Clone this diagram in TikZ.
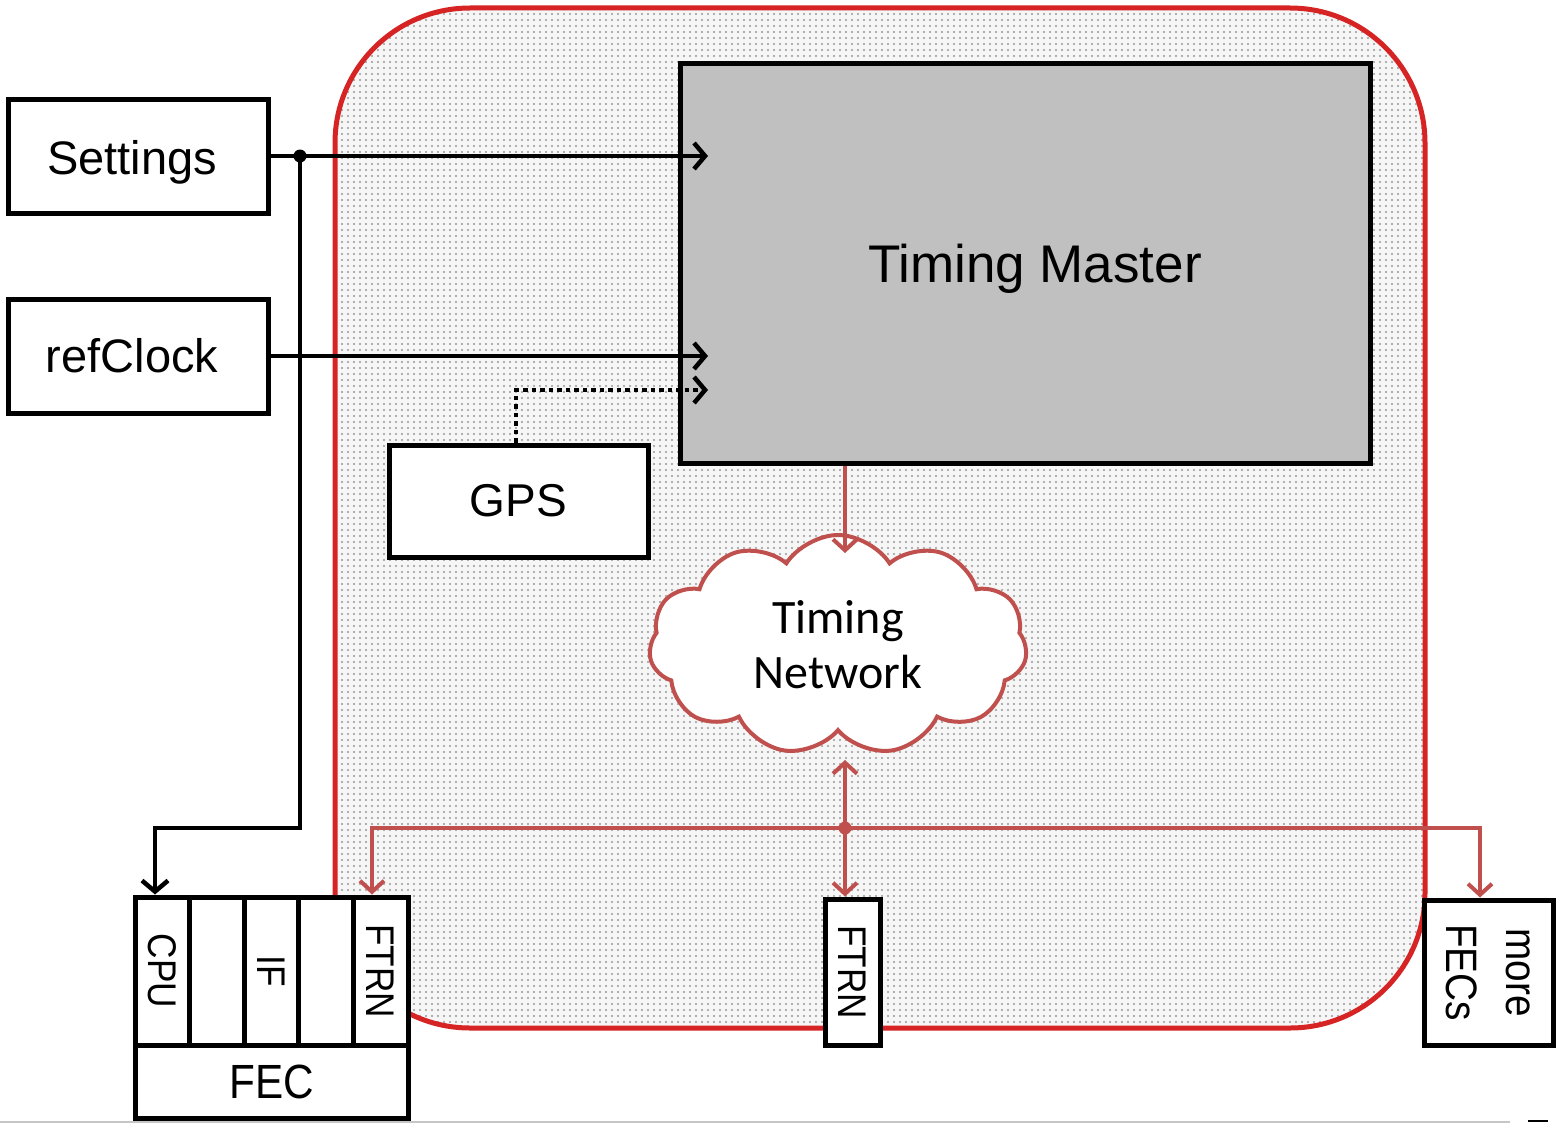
\documentclass[tikz,border=0pt]{standalone}
\usepackage{fontspec}
\setmainfont{Liberation Sans}
\newfontfamily\cloudfont{Carlito}
\newfontfamily\narrowfont[FakeStretch=0.88]{Liberation Sans}
\usetikzlibrary{arrows.meta,shapes.symbols,patterns.meta}

\definecolor{zonered}{RGB}{214,36,36}
\definecolor{linkred}{RGB}{192,80,77}
\definecolor{mastergray}{RGB}{192,192,192}

\begin{document}
\begin{tikzpicture}[x=1pt,y=-1pt,
  box/.style={draw=black, line width=5pt, fill=white, inner sep=0pt, align=center},
  slotbox/.style={box, minimum width=54.6pt, minimum height=148pt,
    font=\narrowfont\fontsize{40}{48}\selectfont},
  sig/.style={draw=black, line width=4.5pt, line join=miter,
    -{Straight Barb[length=11pt,width=26pt]}},
  sigdot/.style={draw=black, line width=4.5pt, dash pattern=on 4.5pt off 4pt,
    -{Straight Barb[length=11pt,width=26pt]}},
  link/.style={draw=linkred, line width=4pt,
    -{Straight Barb[length=11pt,width=24pt]}},
  linkboth/.style={draw=linkred, line width=4pt,
    {Straight Barb[length=11pt,width=24pt]}-{Straight Barb[length=11pt,width=24pt]}}
]
\useasboundingbox (0,0) rectangle (1556,1124);

% timing domain: dotted grey area with red rounded border
\draw[preaction={fill=gray!7},
      preaction={pattern={Dots[distance=6pt,radius=1.1pt]}, pattern color=gray!80},
      draw=zonered, line width=5pt, rounded corners=135pt]
  (335,8) rectangle (1425,1028);

% inputs
\node[box, minimum width=260pt, minimum height=114pt, text height=46pt, text depth=10pt,
      font=\fontsize{47}{56}\selectfont] (settings) at (138,156)
      {Settings\hspace*{12pt}};
\node[box, minimum width=260pt, minimum height=114pt,
      font=\fontsize{47}{56}\selectfont] (refclock) at (138,356)
      {refClock\hspace*{12pt}};

% timing master
\node[box, fill=mastergray, minimum width=690pt, minimum height=399pt,
      text height=48pt, text depth=11pt,
      font=\fontsize{53}{64}\selectfont] (master) at (1025,263.5)
      {\hspace*{20pt}Timing Master};

% GPS receiver
\node[box, minimum width=259pt, minimum height=112pt,
      font=\fontsize{46}{56}\selectfont] (gps) at (518.5,501) {GPS};

% timing network
\node[cloud, cloud puffs=11, cloud puff arc=115, cloud ignores aspect,
      draw=linkred, line width=4pt, fill=white, inner sep=0pt,
      minimum width=378pt, minimum height=220pt, align=center,
      font=\cloudfont\fontsize{48}{55}\selectfont] (net) at (838,645)
      {Timing\\Network};

% front-end computer with its slots
\node[slotbox] (cpu)   at (162.3,971) {\rotatebox{-90}{CPU}};
\node[slotbox] (slotb) at (216.9,971) {};
\node[slotbox] (slotif) at (271.5,971) {\rotatebox{-90}{IF}};
\node[slotbox] (slotd) at (326.1,971) {};
\node[slotbox] (ftrnA) at (380.7,971) {\rotatebox{-90}{FTRN}};
\node[box, minimum width=273pt, minimum height=73pt,
      font=\narrowfont\fontsize{48}{56}\selectfont] (fec) at (271.5,1081.5) {FEC};

% stand-alone timing receiver
\node[slotbox, minimum width=55pt, minimum height=146pt] (ftrnB) at (852.5,972)
      {\rotatebox{-90}{FTRN}};

% further front-end computers
\node[box, minimum width=129pt, minimum height=145pt,
      font=\narrowfont\fontsize{44}{60}\selectfont] (more) at (1488.5,972.5)
      {\rotatebox{-90}{\begin{tabular}{@{}c@{}}more\\FECs\end{tabular}}};

% helper points
\coordinate (tmEdge) at (708,0);
\coordinate (splitS) at (300,156);
\coordinate (bendA) at (300,828);
\coordinate (bendB) at (155,828);
\coordinate (gpsBend) at (516,390);
\coordinate (netX) at (845,0);
\coordinate (netTop) at (845,553);
\coordinate (netBot) at (845,760);
\coordinate (busL) at (372,828);
\coordinate (busR) at (1480,828);

% black signal lines
\draw[sig] (settings.east) -- (settings.east -| tmEdge);
\draw[sig] (refclock.east) -- (refclock.east -| tmEdge);
\draw[sig] (splitS) -- (bendA) -- (bendB) -- (bendB |- cpu.north);
\fill (splitS) circle (6.5pt);
\draw[sigdot] (gps.north -| gpsBend) -- (gpsBend) -- (gpsBend -| tmEdge);

% timing distribution
\draw[link] (master.south -| netX) -- (netTop);
\draw[linkboth] (netBot) -- (netBot |- ftrnB.north);
\draw[linkboth] (busL |- ftrnA.north) -- (busL) -- (busR) -- (busR |- more.north);
\fill[linkred] (netX |- busL) circle (6.5pt);

% page edge
\draw[gray!45, line width=2pt] (0,1122) -- (1510,1122);
\draw[black, line width=2pt] (1528,1121) -- (1548,1121);
\end{tikzpicture}
\end{document}
